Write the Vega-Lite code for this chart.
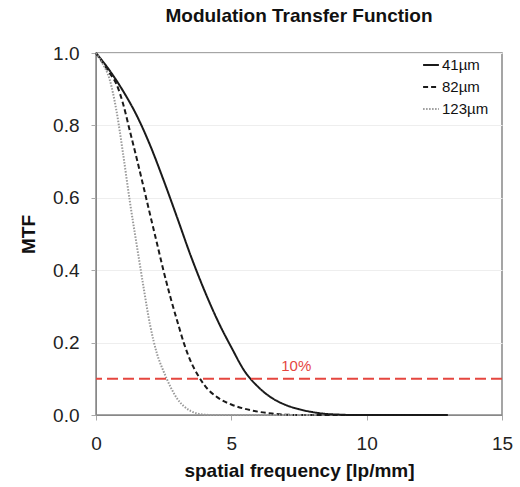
{
  "$schema": "https://vega.github.io/schema/vega-lite/v6.json",
  "autosize": {"type": "none"},
  "padding": {"left": 96, "top": 53, "right": 18, "bottom": 72},
  "width": 406,
  "height": 362,
  "title": {"text": "Modulation Transfer Function", "font": "Liberation Sans", "fontSize": 19, "fontWeight": "bold", "color": "#111", "anchor": "middle", "offset": 18},
  "config": {
    "view": {"stroke": "#888", "strokeWidth": 1.5},
    "axis": {"labelFont": "Liberation Sans", "titleFont": "Liberation Sans", "labelColor": "#222", "titleColor": "#111", "domainColor": "#888", "tickColor": "#aaa", "gridColor": "#eeeeee"}
  },
  "datasets": {
    "mtf": [
      {"f": 0, "mtf": 1.0, "series": "41µm"},
      {"f": 0.5, "mtf": 0.952, "series": "41µm"},
      {"f": 1.0, "mtf": 0.895, "series": "41µm"},
      {"f": 1.5, "mtf": 0.828, "series": "41µm"},
      {"f": 2.0, "mtf": 0.745, "series": "41µm"},
      {"f": 2.5, "mtf": 0.648, "series": "41µm"},
      {"f": 3.0, "mtf": 0.545, "series": "41µm"},
      {"f": 3.5, "mtf": 0.44, "series": "41µm"},
      {"f": 4.0, "mtf": 0.345, "series": "41µm"},
      {"f": 4.5, "mtf": 0.26, "series": "41µm"},
      {"f": 5.0, "mtf": 0.187, "series": "41µm"},
      {"f": 5.5, "mtf": 0.12, "series": "41µm"},
      {"f": 6.0, "mtf": 0.077, "series": "41µm"},
      {"f": 6.5, "mtf": 0.047, "series": "41µm"},
      {"f": 7.0, "mtf": 0.028, "series": "41µm"},
      {"f": 7.5, "mtf": 0.016, "series": "41µm"},
      {"f": 8.0, "mtf": 0.008, "series": "41µm"},
      {"f": 8.5, "mtf": 0.003, "series": "41µm"},
      {"f": 9.0, "mtf": 0.001, "series": "41µm"},
      {"f": 9.5, "mtf": 0, "series": "41µm"},
      {"f": 11, "mtf": 0, "series": "41µm"},
      {"f": 13, "mtf": 0, "series": "41µm"},
      {"f": 0, "mtf": 1.0, "series": "82µm"},
      {"f": 0.25, "mtf": 0.973, "series": "82µm"},
      {"f": 0.5, "mtf": 0.945, "series": "82µm"},
      {"f": 0.75, "mtf": 0.915, "series": "82µm"},
      {"f": 1.0, "mtf": 0.86, "series": "82µm"},
      {"f": 1.25, "mtf": 0.785, "series": "82µm"},
      {"f": 1.5, "mtf": 0.71, "series": "82µm"},
      {"f": 1.75, "mtf": 0.632, "series": "82µm"},
      {"f": 2.0, "mtf": 0.553, "series": "82µm"},
      {"f": 2.25, "mtf": 0.475, "series": "82µm"},
      {"f": 2.5, "mtf": 0.397, "series": "82µm"},
      {"f": 2.75, "mtf": 0.325, "series": "82µm"},
      {"f": 3.0, "mtf": 0.26, "series": "82µm"},
      {"f": 3.25, "mtf": 0.198, "series": "82µm"},
      {"f": 3.5, "mtf": 0.148, "series": "82µm"},
      {"f": 3.75, "mtf": 0.112, "series": "82µm"},
      {"f": 4.0, "mtf": 0.083, "series": "82µm"},
      {"f": 4.5, "mtf": 0.048, "series": "82µm"},
      {"f": 5.0, "mtf": 0.029, "series": "82µm"},
      {"f": 5.5, "mtf": 0.017, "series": "82µm"},
      {"f": 6.0, "mtf": 0.009, "series": "82µm"},
      {"f": 6.5, "mtf": 0.004, "series": "82µm"},
      {"f": 7.0, "mtf": 0.001, "series": "82µm"},
      {"f": 7.5, "mtf": 0, "series": "82µm"},
      {"f": 10, "mtf": 0, "series": "82µm"},
      {"f": 12.5, "mtf": 0, "series": "82µm"},
      {"f": 0, "mtf": 1.0, "series": "123µm"},
      {"f": 0.25, "mtf": 0.97, "series": "123µm"},
      {"f": 0.5, "mtf": 0.928, "series": "123µm"},
      {"f": 0.75, "mtf": 0.843, "series": "123µm"},
      {"f": 1.0, "mtf": 0.722, "series": "123µm"},
      {"f": 1.25, "mtf": 0.59, "series": "123µm"},
      {"f": 1.5, "mtf": 0.472, "series": "123µm"},
      {"f": 1.75, "mtf": 0.356, "series": "123µm"},
      {"f": 2.0, "mtf": 0.248, "series": "123µm"},
      {"f": 2.25, "mtf": 0.17, "series": "123µm"},
      {"f": 2.5, "mtf": 0.12, "series": "123µm"},
      {"f": 2.75, "mtf": 0.078, "series": "123µm"},
      {"f": 3.0, "mtf": 0.045, "series": "123µm"},
      {"f": 3.25, "mtf": 0.024, "series": "123µm"},
      {"f": 3.5, "mtf": 0.011, "series": "123µm"},
      {"f": 3.75, "mtf": 0.004, "series": "123µm"},
      {"f": 4.0, "mtf": 0.001, "series": "123µm"},
      {"f": 4.3, "mtf": 0, "series": "123µm"},
      {"f": 8, "mtf": 0, "series": "123µm"}
    ],
    "threshold": [{"f": 7.4, "mtf": 0.1, "label": "10%"}]
  },
  "layer": [
    {
      "data": {"name": "mtf"},
      "mark": {"type": "line", "interpolate": "monotone"},
      "encoding": {
        "x": {"field": "f", "type": "quantitative", "scale": {"domain": [0, 15], "nice": false},
              "axis": {"values": [0, 5, 10, 15], "title": "spatial frequency [lp/mm]", "labelFontSize": 19, "titleFontSize": 19, "titleFontWeight": "bold", "labelPadding": 14, "titlePadding": 8, "tickSize": 5, "grid": false, "labelFlush": false}},
        "y": {"field": "mtf", "type": "quantitative", "scale": {"domain": [0, 1], "nice": false},
              "axis": {"values": [0, 0.2, 0.4, 0.6, 0.8, 1.0], "format": ".1f", "title": "MTF", "labelFontSize": 19, "titleFontSize": 19, "titleFontWeight": "bold", "labelPadding": 12, "titlePadding": 14, "tickSize": 5, "grid": true, "labelFlush": false}},
        "color": {"field": "series", "type": "nominal", "scale": {"domain": ["41µm", "82µm", "123µm"], "range": ["#1a1a1a", "#1a1a1a", "#999999"]},
                  "legend": {"title": null, "orient": "none", "legendX": 326, "legendY": 3, "symbolType": "stroke", "symbolSize": 250, "symbolStrokeWidth": 2, "labelFont": "Liberation Sans", "labelFontSize": 15, "labelColor": "#111", "rowPadding": 5, "labelOffset": 2}},
        "strokeDash": {"field": "series", "type": "nominal", "scale": {"domain": ["41µm", "82µm", "123µm"], "range": [[1, 0], [5, 3], [1.5, 1.5]]}},
        "strokeWidth": {"field": "series", "type": "nominal", "scale": {"domain": ["41µm", "82µm", "123µm"], "range": [2, 2, 1.3]}, "legend": null}
      }
    },
    {
      "data": {"name": "threshold"},
      "mark": {"type": "rule", "color": "#e5463f", "strokeWidth": 2, "strokeDash": [11, 5]},
      "encoding": {"y": {"field": "mtf", "type": "quantitative"}}
    },
    {
      "data": {"name": "threshold"},
      "mark": {"type": "text", "color": "#e5463f", "font": "Liberation Sans", "fontSize": 15, "dy": -13},
      "encoding": {"x": {"field": "f", "type": "quantitative"}, "y": {"field": "mtf", "type": "quantitative"}, "text": {"field": "label"}}
    }
  ]
}
